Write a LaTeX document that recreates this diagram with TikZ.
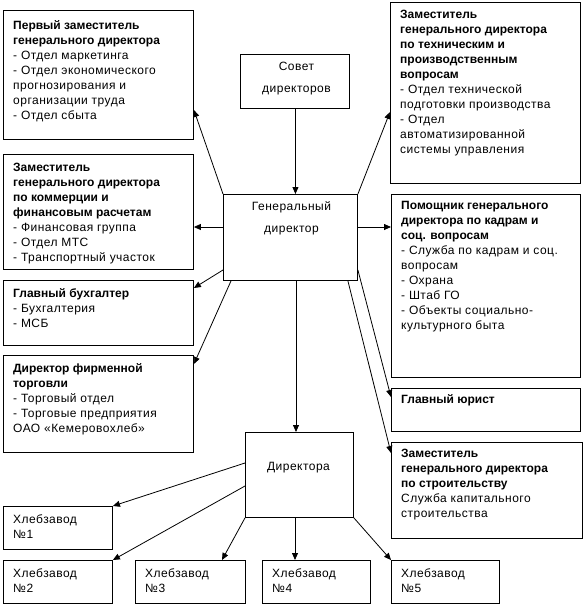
\documentclass[tikz,border=0pt]{standalone}
\usepackage{fontspec}
\setmainfont{Liberation Sans}[UprightFeatures={LetterSpace=4}]
\usetikzlibrary{calc,arrows.meta}
\newcommand{\firstline}{\rule{0pt}{10pt}}
\begin{document}
\begin{tikzpicture}[x=1pt,y=-1pt,
  box/.style={draw, line width=0.9pt, inner sep=0pt, anchor=north west},
  txt/.style={anchor=north west, align=left, inner sep=0pt, font=\fontsize{12}{15}\selectfont},
  ctxt/.style={anchor=north, align=center, inner sep=0pt, font=\fontsize{12}{22}\selectfont},
  arr/.style={line width=0.8pt, -{Triangle[length=7pt,width=6pt]}}
]
\useasboundingbox (0,0) rectangle (583,608);
% boxes
\node[box, minimum width=190pt, minimum height=129pt] (p1) at (3,10) {};
\node[box, minimum width=190pt, minimum height=115pt] (com) at (3,154) {};
\node[box, minimum width=190pt, minimum height=65pt] (buh) at (3,280) {};
\node[box, minimum width=190pt, minimum height=97pt] (torg) at (3,355) {};
\node[box, minimum width=190pt, minimum height=181pt] (tech) at (390,2) {};
\node[box, minimum width=189pt, minimum height=183pt] (pom) at (391,194) {};
\node[box, minimum width=189pt, minimum height=43pt] (jur) at (391,388) {};
\node[box, minimum width=191pt, minimum height=96pt] (str) at (391,442) {};
\node[box, minimum width=109pt, minimum height=54pt] (sov) at (240,54) {};
\node[box, minimum width=134pt, minimum height=86pt] (gen) at (223,194) {};
\node[box, minimum width=108pt, minimum height=85pt] (dir) at (245,432) {};
\node[box, minimum width=109pt, minimum height=43pt] (h1) at (3,506) {};
\node[box, minimum width=109pt, minimum height=43pt] (h2) at (3,560) {};
\node[box, minimum width=110pt, minimum height=43pt] (h3) at (135,560) {};
\node[box, minimum width=108pt, minimum height=43pt] (h4) at (262,560) {};
\node[box, minimum width=108pt, minimum height=43pt] (h5) at (391,560) {};
% texts (first baseline = node top + 10)
\node[txt] (p1t) at ($(p1.north west)+(10,9)$) {\firstline\textbf{Первый заместитель}\\\textbf{генерального директора}\\- Отдел маркетинга\\- Отдел экономического\\прогнозирования и\\организации труда\\- Отдел сбыта};
\node[txt] (comt) at ($(com.north west)+(10,7)$) {\firstline\textbf{Заместитель}\\\textbf{генерального директора}\\\textbf{по коммерции и}\\\textbf{финансовым расчетам}\\- Финансовая группа\\- Отдел МТС\\- Транспортный участок};
\node[txt] (buht) at ($(buh.north west)+(10,7)$) {\firstline\textbf{Главный бухгалтер}\\- Бухгалтерия\\- МСБ};
\node[txt] (torgt) at ($(torg.north west)+(10,7)$) {\firstline\textbf{Директор фирменной}\\\textbf{торговли}\\- Торговый отдел\\- Торговые предприятия\\ОАО «Кемеровохлеб»};
\node[txt] (techt) at ($(tech.north west)+(10,6)$) {\firstline\textbf{Заместитель}\\\textbf{генерального директора}\\\textbf{по техническим и}\\\textbf{производственным}\\\textbf{вопросам}\\- Отдел технической\\подготовки производства\\- Отдел\\автоматизированной\\системы управления};
\node[txt] (pomt) at ($(pom.north west)+(10,5)$) {\firstline\textbf{Помощник генерального}\\\textbf{директора по кадрам и}\\\textbf{соц. вопросам}\\- Служба по кадрам и соц.\\вопросам\\- Охрана\\- Штаб ГО\\- Объекты социально-\\культурного быта};
\node[txt] (jurt) at ($(jur.north west)+(10,5)$) {\firstline\textbf{Главный юрист}};
\node[txt] (strt) at ($(str.north west)+(10,5)$) {\firstline\textbf{Заместитель}\\\textbf{генерального директора}\\\textbf{по строительству}\\Служба капитального\\строительства};
\node[ctxt] (sovt) at ($(sov.north)+(1.5,6)$) {\firstline Совет\\директоров};
\node[ctxt] (gent) at ($(gen.north)+(1,6)$) {\firstline Генеральный\\директор};
\node[ctxt] (dirt) at ($(dir.north)+(-1,28)$) {\firstline Директора};
\node[txt] (h1t) at ($(h1.north west)+(10,7)$) {\firstline Хлебзавод\\№1};
\node[txt] (h2t) at ($(h2.north west)+(10,7)$) {\firstline Хлебзавод\\№2};
\node[txt] (h3t) at ($(h3.north west)+(10,7)$) {\firstline Хлебзавод\\№3};
\node[txt] (h4t) at ($(h4.north west)+(10,7)$) {\firstline Хлебзавод\\№4};
\node[txt] (h5t) at ($(h5.north west)+(10,7)$) {\firstline Хлебзавод\\№5};
% connector points
\coordinate (sovb) at ($(sov.south)+(0.5,0)$);
\coordinate (aL) at ($(gen.north west)+(0,33)$);
\coordinate (aR) at ($(gen.north east)+(0,33)$);
\coordinate (gL) at ($(gen.north west)+(0,76)$);
\coordinate (gR) at ($(gen.north east)+(0,76)$);
\coordinate (gB1) at ($(gen.south west)+(8,0)$);
\coordinate (gB2) at ($(gen.south west)+(73,0)$);
\coordinate (gB3) at ($(gen.south east)+(-10,0)$);
\coordinate (dL1) at ($(dir.north west)+(0,31)$);
\coordinate (dL2) at ($(dir.north west)+(0,54)$);
\coordinate (dB) at ($(dir.south west)+(50,0)$);
% connectors
\draw[arr] (sovb) -- (sovb |- gen.north);
\draw[arr] (gen.north west) -- ($(p1.north east)+(0,100)$);
\draw[arr] (gen.north east) -- ($(tech.north west)+(0,110)$);
\draw[arr] (aL) -- (aL -| com.east);
\draw[arr] (aR) -- (aR -| pom.west);
\draw[arr] (gL) -- ($(buh.north east)+(0,8)$);
\draw[arr] (gB1) -- ($(torg.north east)+(0,9)$);
\draw[arr] (gR) -- ($(jur.north west)+(0,9)$);
\draw[arr] (gB3) -- ($(str.north west)+(0,11)$);
\draw[arr] (gB2) -- (gB2 |- dir.north);
\draw[arr] (dL1) -- (h1.north east);
\draw[arr] (dL2) -- (h2.north east);
\draw[arr] (dir.south west) -- ($(h3.north west)+(87,0)$);
\draw[arr] (dB) -- (dB |- h4.north);
\draw[arr] (dir.south east) -- (h5.north west);
\end{tikzpicture}
\end{document}
